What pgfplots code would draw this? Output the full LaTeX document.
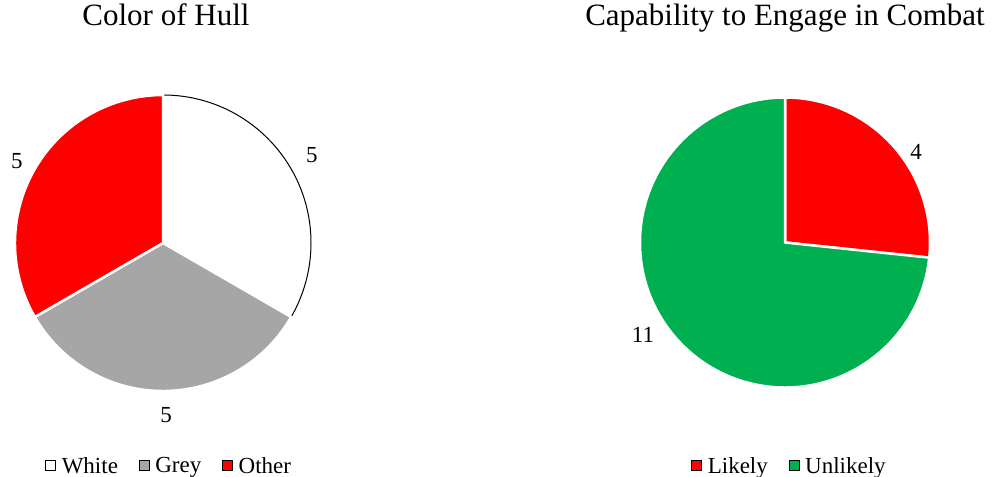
\documentclass[border=0pt]{standalone}
\usepackage{fontspec}
\setmainfont{Liberation Serif}
\usepackage{pgfplots}
\usepackage{pgfplotstable}
\pgfplotsset{compat=1.18}

\definecolor{hullwhite}{HTML}{FFFFFF}
\definecolor{hullgrey}{HTML}{A6A6A6}
\definecolor{hullred}{HTML}{FF0000}
\definecolor{combatgreen}{HTML}{00B050}

\newcommand\titlefont{\fontsize{31bp}{36bp}\selectfont}
\newcommand\labelfont{\fontsize{23bp}{27bp}\selectfont}

% slices run clockwise from 12 o'clock; labshift/labr place the value labels
\pgfplotstableread{
name   value fill        edge  edgew labshift labr
White  5     hullwhite   black 1.0   0.6      1.169
Grey   5     hullgrey    white 2.5   1.0      1.162
Other  5     hullred     white 2.5   0.7      1.132
}\hulltable

\pgfplotstableread{
name     value fill        edge  edgew labshift labr
Likely   4     hullred     white 2.5   -7.4     1.098
Unlikely 11    combatgreen white 2.5   -8.8     1.170
}\combattable

% draws the slices of a table inside an axis spanning [-1,1]^2; #2 = radius
\newcommand\piechart[2]{%
  \pgfplotstablegetrowsof{#1}%
  \pgfmathtruncatemacro\pielast{\pgfplotsretval-1}%
  \def\pietotal{0}%
  \pgfplotsforeachungrouped \pierow in {0,...,\pielast}{%
    \pgfplotstablegetelem{\pierow}{value}\of{#1}%
    \pgfmathsetmacro\pietotal{\pietotal+\pgfplotsretval}%
  }%
  \def\piecum{0}%
  \pgfplotsforeachungrouped \pierow in {0,...,\pielast}{%
    \pgfplotstablegetelem{\pierow}{value}\of{#1}\let\pieV\pgfplotsretval
    \pgfplotstablegetelem{\pierow}{fill}\of{#1}\let\pieC\pgfplotsretval
    \pgfplotstablegetelem{\pierow}{edge}\of{#1}\let\pieE\pgfplotsretval
    \pgfplotstablegetelem{\pierow}{edgew}\of{#1}\let\pieW\pgfplotsretval
    \pgfplotstablegetelem{\pierow}{labshift}\of{#1}\let\pieS\pgfplotsretval
    \pgfplotstablegetelem{\pierow}{labr}\of{#1}\let\pieR\pgfplotsretval
    \pgfmathsetmacro\pieA{90-\piecum*360/\pietotal}%
    \pgfmathsetmacro\pieB{\pieA-\pieV*360/\pietotal}%
    \pgfmathsetmacro\pieM{(\pieA+\pieB)/2+\pieS}%
    \edef\pietmp{%
      \noexpand\filldraw[fill=\pieC, draw=\pieE, line width=\pieW bp, line join=round]
        (axis cs:0,0) -- (axis cs:{cos(\pieA)},{sin(\pieA)})
        arc[start angle=\pieA, end angle=\pieB, radius=#2] -- cycle;
      \noexpand\node[font=\noexpand\labelfont, inner sep=0pt]
        at (axis cs:{\pieR*cos(\pieM)},{\pieR*sin(\pieM)}) {\pieV};
    }\pietmp
    \pgfmathsetmacro\piecum{\piecum+\pieV}%
  }%
}

\pgfplotsset{
  pie axis/.style={
    hide axis, scale only axis, clip=false, anchor=center,
    xmin=-1, xmax=1, ymin=-1, ymax=1,
    title style={font=\titlefont, anchor=base},
    legend columns=-1,
    legend image code/.code={\draw[##1] (0bp,-4bp) rectangle (10bp,6bp);},
    legend style={draw=none, fill=none, font=\labelfont, anchor=center,
      nodes={inner sep=1bp},
      /tikz/every odd column/.append style={column sep=5bp},
      /tikz/every even column/.append style={column sep=20bp}},
  },
}

\begin{document}
\begin{tikzpicture}
\path[use as bounding box] (0,0) rectangle (992bp,477bp);

\begin{axis}[pie axis, width=296bp, height=296bp, at={(163bp,234bp)},
  title={Color of Hull},
  title style={at={(axis description cs:0.510,1.216)}},
  legend style={at={(axis description cs:0.519,-0.253)}}]
  \addlegendimage{fill=hullwhite, draw=black, line width=0.6bp}
  \addlegendentry{White}
  \addlegendimage{fill=hullgrey, draw=none}
  \addlegendentry{Grey}
  \addlegendimage{fill=hullred, draw=none}
  \addlegendentry{Other}
  \piechart{\hulltable}{148bp}
\end{axis}

\begin{axis}[pie axis, width=290bp, height=290bp, at={(785bp,234.5bp)},
  title={Capability to Engage in Combat},
  title style={at={(axis description cs:0.5,1.229)}},
  legend style={at={(axis description cs:0.514,-0.271)}}]
  \addlegendimage{fill=hullred, draw=none}
  \addlegendentry{Likely}
  \addlegendimage{fill=combatgreen, draw=none}
  \addlegendentry{Unlikely}
  \piechart{\combattable}{145bp}
\end{axis}
\end{tikzpicture}
\end{document}
